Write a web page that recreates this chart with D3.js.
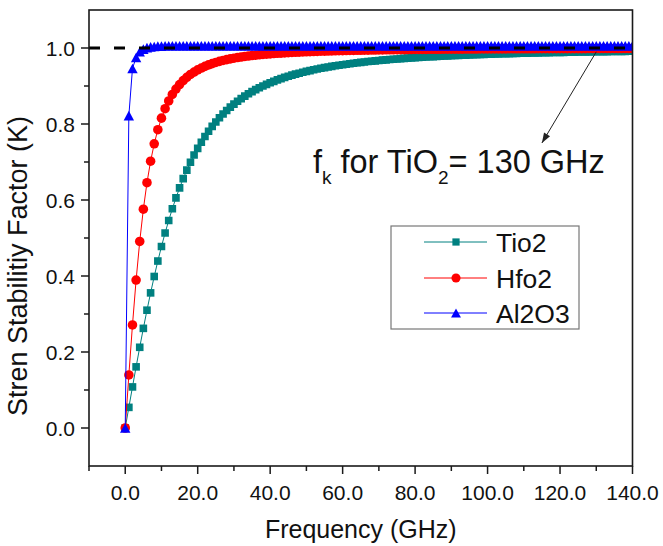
<!DOCTYPE html>
<html><head><meta charset="utf-8">
<script src="https://cdn.jsdelivr.net/npm/d3@7"></script>
<style>
html,body{margin:0;padding:0;background:#fff;}
svg{display:block;font-family:"Liberation Sans",Arial,Helvetica,sans-serif;}
</style>
</head><body>
<svg id="chart" width="663" height="546"></svg>
<script>
// ---------- data ----------
const freq = [0,1,2,3,4,5,6,7,8,9,10,11,12,13,14,15,16,17,18,19,20,21,22,23,24,25,26,27,28,29,
30,31,32,33,34,35,36,37,38,39,40,41,42,43,44,45,46,47,48,49,50,51,52,53,54,55,56,57,58,59,
60,61,62,63,64,65,66,67,68,69,70,71,72,73,74,75,76,77,78,79,80,81,82,83,84,85,86,87,88,89,
90,91,92,93,94,95,96,97,98,99,100,101,102,103,104,105,106,107,108,109,110,111,112,113,114,115,116,117,118,119,
120,121,122,123,124,125,126,127,128,129,130,131,132,133,134,135,136,137,138,139,140];

const tio2 = [
0, 0.0543, 0.1081, 0.1609, 0.2124, 0.2622, 0.3100, 0.3556, 0.3987, 0.4394,
0.4775, 0.5131, 0.5462, 0.5770, 0.6055, 0.6318, 0.6561, 0.6786, 0.6993, 0.7183,
0.7359, 0.7521, 0.7671, 0.7809, 0.7936, 0.8054, 0.8163, 0.8263, 0.8357, 0.8444,
0.8524, 0.8599, 0.8669, 0.8734, 0.8795, 0.8851, 0.8904, 0.8954, 0.9000, 0.9044,
0.9085, 0.9123, 0.9160, 0.9194, 0.9226, 0.9256, 0.9285, 0.9312, 0.9337, 0.9362,
0.9385, 0.9406, 0.9427, 0.9447, 0.9466, 0.9483, 0.9500, 0.9516, 0.9532, 0.9546,
0.9560, 0.9574, 0.9587, 0.9599, 0.9611, 0.9622, 0.9633, 0.9643, 0.9653, 0.9662,
0.9671, 0.9680, 0.9689, 0.9697, 0.9704, 0.9712, 0.9719, 0.9726, 0.9733, 0.9739,
0.9746, 0.9752, 0.9757, 0.9763, 0.9768, 0.9774, 0.9779, 0.9783, 0.9788, 0.9793,
0.9797, 0.9802, 0.9806, 0.9810, 0.9814, 0.9818, 0.9821, 0.9825, 0.9828, 0.9832,
0.9835, 0.9838, 0.9841, 0.9844, 0.9847, 0.9850, 0.9853, 0.9855, 0.9858, 0.9861,
0.9863, 0.9865, 0.9868, 0.9870, 0.9872, 0.9874, 0.9877, 0.9879, 0.9881, 0.9883,
0.9884, 0.9886, 0.9888, 0.9890, 0.9892, 0.9893, 0.9895, 0.9897, 0.9898, 0.9900,
0.9901, 0.9903, 0.9904, 0.9906, 0.9907, 0.9908, 0.9910, 0.9911, 0.9912, 0.9913,
0.9915];

const hfo2 = [
0, 0.1395, 0.2712, 0.3893, 0.4909, 0.5758, 0.6455, 0.7021, 0.7480, 0.7851,
0.8154, 0.8402, 0.8607, 0.8777, 0.8919, 0.9039, 0.9141, 0.9228, 0.9303, 0.9367,
0.9424, 0.9473, 0.9517, 0.9555, 0.9589, 0.9620, 0.9648, 0.9672, 0.9694, 0.9714,
0.9732, 0.9748, 0.9763, 0.9777, 0.9789, 0.9801, 0.9811, 0.9821, 0.9830, 0.9838,
0.9846, 0.9853, 0.9860, 0.9866, 0.9872, 0.9878, 0.9883, 0.9888, 0.9892, 0.9897,
0.9901, 0.9905, 0.9908, 0.9912, 0.9915, 0.9918, 0.9921, 0.9923, 0.9926, 0.9928,
0.9931, 0.9933, 0.9935, 0.9937, 0.9939, 0.9941, 0.9943, 0.9944, 0.9946, 0.9947,
0.9949, 0.9950, 0.9952, 0.9953, 0.9954, 0.9956, 0.9957, 0.9958, 0.9959, 0.9960,
0.9961, 0.9962, 0.9963, 0.9964, 0.9965, 0.9965, 0.9966, 0.9967, 0.9968, 0.9968,
0.9969, 0.9970, 0.9970, 0.9971, 0.9972, 0.9972, 0.9973, 0.9973, 0.9974, 0.9974,
0.9975, 0.9975, 0.9976, 0.9976, 0.9977, 0.9977, 0.9978, 0.9978, 0.9978, 0.9979,
0.9979, 0.9980, 0.9980, 0.9980, 0.9981, 0.9981, 0.9981, 0.9982, 0.9982, 0.9982,
0.9983, 0.9983, 0.9983, 0.9983, 0.9984, 0.9984, 0.9984, 0.9984, 0.9985, 0.9985,
0.9985, 0.9985, 0.9986, 0.9986, 0.9986, 0.9986, 0.9986, 0.9987, 0.9987, 0.9987,
0.9987];

const al2o3 = [
0, 0.822, 0.946, 0.975, 0.990, 0.997, 1.001, 1.003, 1.004, 1.005,
1.005, 1.006, 1.006, 1.006, 1.006, 1.006, 1.006, 1.006, 1.006, 1.006,
1.006, 1.006, 1.006, 1.006, 1.006, 1.006, 1.006, 1.006, 1.006, 1.006,
1.006, 1.006, 1.006, 1.006, 1.006, 1.006, 1.006, 1.006, 1.006, 1.006,
1.006, 1.006, 1.006, 1.006, 1.006, 1.006, 1.006, 1.006, 1.006, 1.006,
1.006, 1.006, 1.006, 1.006, 1.006, 1.006, 1.006, 1.006, 1.006, 1.006,
1.006, 1.006, 1.006, 1.006, 1.006, 1.006, 1.006, 1.006, 1.006, 1.006,
1.006, 1.006, 1.006, 1.006, 1.006, 1.006, 1.006, 1.006, 1.006, 1.006,
1.006, 1.006, 1.006, 1.006, 1.006, 1.006, 1.006, 1.006, 1.006, 1.006,
1.006, 1.006, 1.006, 1.006, 1.006, 1.006, 1.006, 1.006, 1.006, 1.006,
1.006, 1.006, 1.006, 1.006, 1.006, 1.006, 1.006, 1.006, 1.006, 1.006,
1.006, 1.006, 1.006, 1.006, 1.006, 1.006, 1.006, 1.006, 1.006, 1.006,
1.006, 1.006, 1.006, 1.006, 1.006, 1.006, 1.006, 1.006, 1.006, 1.006,
1.006, 1.006, 1.006, 1.006, 1.006, 1.006, 1.006, 1.006, 1.006, 1.006,
1.006];

const seriesNames = ["Tio2", "Hfo2", "Al2O3"];
const seriesColors = ["#008080", "#FF0000", "#0000FF"];
const seriesShapes = ["square", "circle", "triangle"];
const xMajorTicks = [0, 20, 40, 60, 80, 100, 120, 140];
const xMinorTicks = [-10, 10, 30, 50, 70, 90, 110, 130];
const yMajorTicks = [0, 0.2, 0.4, 0.6, 0.8, 1.0];
const yMinorTicks = [0.1, 0.3, 0.5, 0.7, 0.9];
const refLevel = 1.0;
const fkFreq = 130;     // annotated frequency
const arrowTail = [130, 0.99];
const arrowHead = [115, 0.75];
const xTitle = "Frequency (GHz)";
const yTitle = "Stren Stabilitiy Factor (K)";

// ---------- layout ----------
const svg = d3.select("#chart");
const L = 89, R = 632.5, T = 10, B = 466;
const x = d3.scaleLinear().domain([-10, 140]).range([L, R]);
const y = d3.scaleLinear().domain([-0.1, 1.1]).range([B, T]);

svg.append("defs").append("clipPath").attr("id", "plotclip")
  .append("rect").attr("x", L).attr("y", T).attr("width", R - L).attr("height", B - T);

const seriesData = [tio2, hfo2, al2o3].map((vals, i) => ({
  name: seriesNames[i], color: seriesColors[i], shape: seriesShapes[i],
  points: freq.map((f, j) => ({ f: f, k: vals[j] }))
}));

function markerPath(shape, s) {
  if (shape === "square") return d3.symbol(d3.symbolSquare, 58 * s * s)();
  if (shape === "circle") return d3.symbol(d3.symbolCircle, 72 * s * s)();
  // triangle centred on its bounding box
  const h = 9.6 * s, w = 10.4 * s;
  return `M0,${-h / 2}L${w / 2},${h / 2}L${-w / 2},${h / 2}Z`;
}

const plot = svg.append("g").attr("clip-path", "url(#plotclip)");
const line = d3.line().x(d => x(d.f)).y(d => y(d.k));

seriesData.forEach(s => {
  const g = plot.append("g");
  g.append("path").datum(s.points).attr("d", line)
    .attr("fill", "none").attr("stroke", s.color).attr("stroke-width", 1);
  g.selectAll("path.m").data(s.points).join("path").attr("class", "m")
    .attr("d", markerPath(s.shape, 1))
    .attr("transform", d => `translate(${x(d.f)},${y(d.k)})`)
    .attr("fill", s.color);
});

// dashed reference line at K = 1
plot.append("line")
  .attr("x1", x(-10)).attr("x2", x(140)).attr("y1", y(refLevel)).attr("y2", y(refLevel))
  .attr("stroke", "#000").attr("stroke-width", 3).attr("stroke-dasharray", "11,14");

// ---------- axes / frame ----------
const axisColor = "#1a1a1a";
svg.append("rect").attr("x", L).attr("y", T).attr("width", R - L).attr("height", B - T)
  .attr("fill", "none").attr("stroke", axisColor).attr("stroke-width", 1.6);

const ax = svg.append("g");
ax.selectAll("line.xM").data(xMajorTicks).join("line")
  .attr("x1", d => x(d)).attr("x2", d => x(d)).attr("y1", B).attr("y2", B + 8)
  .attr("stroke", axisColor).attr("stroke-width", 1.5);
ax.selectAll("line.xm").data(xMinorTicks).join("line")
  .attr("x1", d => x(d)).attr("x2", d => x(d)).attr("y1", B).attr("y2", B + 5)
  .attr("stroke", axisColor).attr("stroke-width", 1.5);
ax.selectAll("text.xl").data(xMajorTicks).join("text")
  .attr("x", d => x(d)).attr("y", 500).attr("text-anchor", "middle")
  .attr("font-size", 21).attr("fill", "#111").text(d => d3.format(".1f")(d));

ax.selectAll("line.yM").data(yMajorTicks).join("line")
  .attr("x1", L - 8).attr("x2", L).attr("y1", d => y(d)).attr("y2", d => y(d))
  .attr("stroke", axisColor).attr("stroke-width", 1.5);
ax.selectAll("line.ym").data(yMinorTicks).join("line")
  .attr("x1", L - 5).attr("x2", L).attr("y1", d => y(d)).attr("y2", d => y(d))
  .attr("stroke", axisColor).attr("stroke-width", 1.5);
ax.selectAll("text.yl").data(yMajorTicks).join("text")
  .attr("x", 75).attr("y", d => y(d)).attr("dy", "0.36em").attr("text-anchor", "end")
  .attr("font-size", 21).attr("fill", "#111").text(d => d3.format(".1f")(d));

svg.append("text").attr("x", (L + R) / 2).attr("y", 538).attr("text-anchor", "middle")
  .attr("font-size", 25).attr("fill", "#111").text(xTitle);
svg.append("text").attr("transform", "translate(27,266) rotate(-90)")
  .attr("text-anchor", "middle").attr("font-size", 27).attr("fill", "#111").text(yTitle);

// ---------- annotation ----------
const ann = svg.append("text").attr("x", x(51.8)).attr("y", y(0.671))
  .attr("font-size", 32.5).attr("fill", "#111");
ann.append("tspan").text("f");
ann.append("tspan").attr("font-size", 19).attr("dy", 11).text("k");
ann.append("tspan").attr("dy", -11).text(" for TiO");
ann.append("tspan").attr("font-size", 19).attr("dy", 11).text("2");
ann.append("tspan").attr("dy", -11).text("= " + fkFreq + " GHz");

const ax0 = x(arrowTail[0]), ay0 = y(arrowTail[1]), ax1 = x(arrowHead[0]), ay1 = y(arrowHead[1]);
svg.append("line").attr("x1", ax0).attr("y1", ay0).attr("x2", ax1).attr("y2", ay1)
  .attr("stroke", "#222").attr("stroke-width", 1);
{
  const ang = Math.atan2(ay1 - ay0, ax1 - ax0), len = 10, half = 3.5;
  const bx = ax1 - len * Math.cos(ang), by = ay1 - len * Math.sin(ang);
  const px = -Math.sin(ang) * half, py = Math.cos(ang) * half;
  svg.append("path")
    .attr("d", `M${ax1},${ay1}L${bx + px},${by + py}L${bx - px},${by - py}Z`)
    .attr("fill", "#222");
}

// ---------- legend ----------
const lg = svg.append("g");
lg.append("rect").attr("x", 391).attr("y", 226).attr("width", 188).attr("height", 103)
  .attr("fill", "#fff").attr("stroke", "#777").attr("stroke-width", 1.2);
const rowY = [242, 278, 313];
seriesData.forEach((s, i) => {
  const g = lg.append("g").attr("transform", `translate(0,${rowY[i]})`);
  g.append("line").attr("x1", 424).attr("x2", 487).attr("y1", 0).attr("y2", 0)
    .attr("stroke", s.color).attr("stroke-width", 1);
  g.append("path").attr("d", markerPath(s.shape, 0.95))
    .attr("transform", "translate(456,0)").attr("fill", s.color);
  g.append("text").attr("x", 496).attr("y", 0).attr("dy", "0.36em")
    .attr("font-size", 26.5).attr("fill", "#111").text(s.name);
});
</script>
</body></html>
